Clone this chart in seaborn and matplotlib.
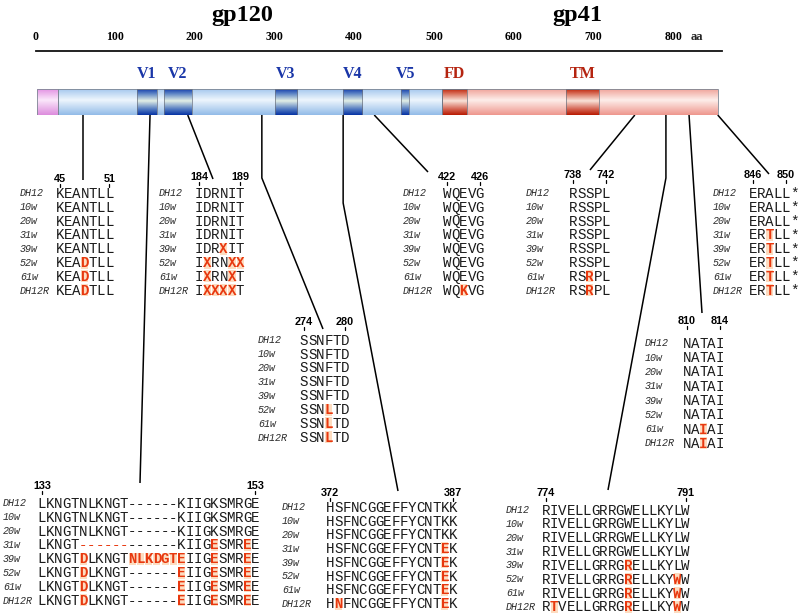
import numpy as np
import matplotlib
matplotlib.use("Agg")
import matplotlib.pyplot as plt
import seaborn as sns
from matplotlib.colors import LinearSegmentedColormap
from matplotlib.patches import Rectangle

# ---------------- data ----------------
ruler_ticks = [0, 100, 200, 300, 400, 500, 600, 700, 800]
protein_names = ["gp120", "gp41"]
protein_name_aa = [260, 680]

# base segments of the Env bar (aa)
base_names = ["signal", "gp120", "gp41"]
base_start = [2, 28, 510]
base_end = [28, 510, 856]
base_style = ["pink", "blue", "red"]

# highlighted regions (aa)
region_names = ["V1", "V2", "V3", "V4", "V5", "FD", "TM"]
region_start = [127, 161, 300, 386, 459, 510, 666]
region_end = [152, 196, 328, 410, 469, 541, 707]
region_style = ["dblue", "dblue", "dblue", "dblue", "dblue", "dred", "dred"]

row_labels = ["DH12", "10w", "20w", "31w", "39w", "52w", "61w", "DH12R"]

# sequences: lowercase = mutated residue (highlighted), '~' = deleted residue (red dash)
seq_45_51 = ["KEANTLL", "KEANTLL", "KEANTLL", "KEANTLL", "KEANTLL",
             "KEAdTLL", "KEAdTLL", "KEAdTLL"]
seq_184_189 = ["IDRNIT", "IDRNIT", "IDRNIT", "IDRNIT", "IDRxIT",
               "IxRNxx", "IxRNxT", "IxxxxT"]
seq_274_280 = ["SSNFTD", "SSNFTD", "SSNFTD", "SSNFTD", "SSNFTD",
               "SSNlTD", "SSNlTD", "SSNlTD"]
seq_422_426 = ["WQEVG", "WQEVG", "WQEVG", "WQEVG", "WQEVG",
               "WQEVG", "WQEVG", "WQkVG"]
seq_738_742 = ["RSSPL", "RSSPL", "RSSPL", "RSSPL", "RSSPL",
               "RSSPL", "RSrPL", "RSrPL"]
seq_846_850 = ["ERALL*", "ERALL*", "ERALL*", "ERtLL*", "ERtLL*",
               "ERtLL*", "ERtLL*", "ERtLL*"]
seq_810_814 = ["NATAI", "NATAI", "NATAI", "NATAI", "NATAI",
               "NATAI", "NAiAI", "NAiAI"]
seq_133_153 = ["LKNGTNLKNGT------KIIGKSMRGE",
               "LKNGTNLKNGT------KIIGKSMRGE",
               "LKNGTNLKNGT------KIIGKSMRGE",
               "LKNGT~~~~~~------KIIGeSMReE",
               "LKNGTdLKNGTnlkdgteIIGeSMReE",
               "LKNGTdLKNGT------eIIGeSMReE",
               "LKNGTdLKNGT------eIIGeSMReE",
               "LKNGTdLKNGT------eIIGeSMReE"]
seq_372_387 = ["HSFNCGGEFFYCNTKK", "HSFNCGGEFFYCNTKK", "HSFNCGGEFFYCNTKK",
               "HSFNCGGEFFYCNTeK", "HSFNCGGEFFYCNTeK", "HSFNCGGEFFYCNTeK",
               "HSFNCGGEFFYCNTeK", "HnFNCGGEFFYCNTeK"]
seq_774_791 = ["RIVELLGRRGWELLKYLW", "RIVELLGRRGWELLKYLW", "RIVELLGRRGWELLKYLW",
               "RIVELLGRRGWELLKYLW", "RIVELLGRRGrELLKYLW", "RIVELLGRRGrELLKYwW",
               "RIVELLGRRGrELLKYwW", "RtVELLGRRGrELLKYwW"]

block_seqs = [seq_45_51, seq_184_189, seq_274_280, seq_422_426, seq_738_742,
              seq_846_850, seq_810_814, seq_133_153, seq_372_387, seq_774_791]
block_first = [45, 184, 274, 422, 738, 846, 810, 133, 372, 774]
block_last = [51, 189, 280, 426, 742, 850, 814, 153, 387, 791]
block_last_idx = [6, 5, 5, 4, 4, 4, 4, 26, 15, 17]
connector_aa = [59.6, 143.7, 191, 284, 386, 425, 752, 791, 820, 856]

# ---------------- layout (pixels) ----------------
W_PX, H_PX = 800, 613
L_PX, PX_PER_AA = 35.5, 0.797
RULER_END = 861
RULER_Y, BAR_TOP, BAR_BOT = 51, 89, 115
CW = 8.2
block_seq_x = [56, 195, 300, 443, 569, 749, 683, 38, 326, 542]
block_lab_x = [20, 159, 258, 403, 526, 713, 645, 3, 282, 506]
block_y0 = [193, 193, 340, 193, 193, 193, 343, 503, 507, 510]
block_head_y = [179, 177, 322, 177, 175, 175, 321, 486, 493, 493]
block_step = [13.9, 13.9, 13.9, 13.9, 13.9, 13.9, 14.3, 13.9, 13.8, 13.8]
conn_knee_y = [None, None, None, 178, 203, None, None, 178, None, None]
conn_end = [(83, 180), (140, 483), (213, 179), (323, 329), (398, 491),
            (428, 172), (590, 170), (608, 490), (702, 313), (769, 174)]

# ---------------- style ----------------
sns.set_theme(style="white")
plt.rcParams['font.family'] = ['DejaVu Sans']
SERIF = 'Liberation Serif'
MONO = 'Liberation Mono'
SANS = 'Liberation Sans'
RED = '#e8380f'
HL_BG = '#fcc596'
SEQ_FS = 10.2
SEQ_CAP = 4.7     # half cap height (px) of sequence glyphs
LAB_CAP = 3.3

gradients = {
    "blue": [(0, '#a6c8ee'), (0.42, '#eef6fd'), (1, '#92bbe8')],
    "red": [(0, '#f0a49b'), (0.42, '#fdeeea'), (1, '#ee968d')],
    "pink": [(0, '#e394e3'), (0.42, '#fbe8fb'), (1, '#dd8cdd')],
    "dblue": [(0, '#1740ad'), (0.18, '#5f86c6'), (0.45, '#e3efe6'), (0.78, '#4f78c0'), (1, '#0632a4')],
    "dred": [(0, '#c02a10'), (0.18, '#d9715c'), (0.45, '#f9e3d9'), (0.78, '#d46250'), (1, '#b81a02')],
}
cmaps = {k: LinearSegmentedColormap.from_list(k, v) for k, v in gradients.items()}
grad = np.linspace(0, 1, 128).reshape(-1, 1)

fig = plt.figure(figsize=(W_PX / 100, H_PX / 100), dpi=100)
ax = fig.add_axes([0, 0, 1, 1])
ax.set_xlim(0, W_PX)
ax.set_ylim(H_PX, 0)
ax.axis('off')

ax_aa = fig.add_axes([L_PX / W_PX, 1 - BAR_BOT / H_PX,
                      RULER_END * PX_PER_AA / W_PX, (BAR_BOT - RULER_Y) / H_PX])
ax_aa.patch.set_alpha(0)

# bar
for a0, a1, st in zip(base_start, base_end, base_style):
    ax_aa.imshow(grad, extent=[a0, a1, BAR_BOT, BAR_TOP], cmap=cmaps[st],
                 aspect='auto', interpolation='bilinear', zorder=1)
    ax_aa.add_patch(Rectangle((a0, BAR_TOP), a1 - a0, BAR_BOT - BAR_TOP, fill=False,
                              ec='#7d8794', lw=0.6, zorder=3))
for name, a0, a1, st in zip(region_names, region_start, region_end, region_style):
    ax_aa.imshow(grad, extent=[a0, a1, BAR_BOT, BAR_TOP], cmap=cmaps[st],
                 aspect='auto', interpolation='bilinear', zorder=2)
    ax_aa.add_patch(Rectangle((a0, BAR_TOP), a1 - a0, BAR_BOT - BAR_TOP, fill=False,
                              ec='#6b7280', lw=0.5, zorder=3))
    col = '#1a36a8' if st == 'dblue' else '#b52410'
    ax_aa.text((a0 + a1) / 2, 74, name, ha='center', va='center', fontsize=11.5,
               fontweight='bold', family=SERIF, color=col)

for name, xa in zip(protein_names, protein_name_aa):
    ax_aa.text(xa, 16, name, ha='center', va='center', fontsize=17.5,
               fontweight='bold', family=SERIF, color='black', clip_on=False)

ax_aa.set_xlim(0, RULER_END)
ax_aa.set_ylim(BAR_BOT, RULER_Y)
ax_aa.set_xticks(ruler_ticks)
ax_aa.set_xticklabels([str(t) for t in ruler_ticks], fontsize=8.5,
                      fontweight='bold', family=SERIF)
ax_aa.xaxis.tick_top()
ax_aa.tick_params(axis='x', direction='out', length=4, width=1.0, pad=1.8,
                  colors='black', top=True, bottom=False)
ax_aa.set_yticks([])
sns.despine(ax=ax_aa, top=False, bottom=True, left=True, right=True)
ax_aa.spines['top'].set_linewidth(1.3)
ax_aa.spines['top'].set_color('#111111')
ax_aa.grid(False)
ax.text(697, 37, "aa", ha='center', va='center', fontsize=9, fontweight='bold',
        family=SERIF)

# connectors
def aa_to_px(a):
    disp = ax_aa.transData.transform((a, BAR_BOT))
    return ax.transData.inverted().transform(disp)[0]

for a, knee, (ex, ey) in zip(connector_aa, conn_knee_y, conn_end):
    sx = aa_to_px(a)
    xs, ys = [sx], [BAR_BOT]
    if knee is not None:
        xs.append(sx)
        ys.append(knee)
    xs.append(ex)
    ys.append(ey)
    ax.plot(xs, ys, color='black', lw=1.1, solid_capstyle='butt', zorder=2)

# sequence blocks
for seqs, f, l, li, sx, lx, y0, hy, stp in zip(block_seqs, block_first, block_last,
                                                block_last_idx, block_seq_x, block_lab_x,
                                                block_y0, block_head_y, block_step):
    for idx, num in ((0, f), (li, l)):
        cx = sx + (idx + 0.5) * CW
        ax.text(cx, hy, str(num), ha='center', va='center', fontsize=7.8,
                fontweight='bold', family=SANS, color='black')
        ax.plot([cx, cx], [hy + 4.5, hy + 8.0], color='black', lw=0.9)
    for r, (lab, s) in enumerate(zip(row_labels, seqs)):
        y = y0 + r * stp
        ax.text(lx, y + LAB_CAP, lab, ha='left', va='baseline', fontsize=7.2,
                style='italic', family=MONO, color='#2a2a2a')
        for i, ch in enumerate(s):
            cx = sx + (i + 0.5) * CW
            if ch == '~':
                ax.text(cx, y + SEQ_CAP, '-', ha='center', va='baseline',
                        fontsize=SEQ_FS, family=MONO, color=RED)
            elif ch.islower():
                ax.add_patch(Rectangle((cx - CW / 2 + 0.5, y - 6.0), CW - 1.0, 12.0,
                                       facecolor=HL_BG, edgecolor='none', alpha=0.6,
                                       zorder=2))
                ax.text(cx, y + SEQ_CAP, ch.upper(), ha='center', va='baseline',
                        fontsize=SEQ_FS, family=MONO, fontweight='bold', color=RED,
                        zorder=3)
            else:
                ax.text(cx, y + SEQ_CAP, ch, ha='center', va='baseline',
                        fontsize=SEQ_FS, family=MONO, color='#1a1a1a', zorder=3)

fig.savefig("out.png", dpi=100)
